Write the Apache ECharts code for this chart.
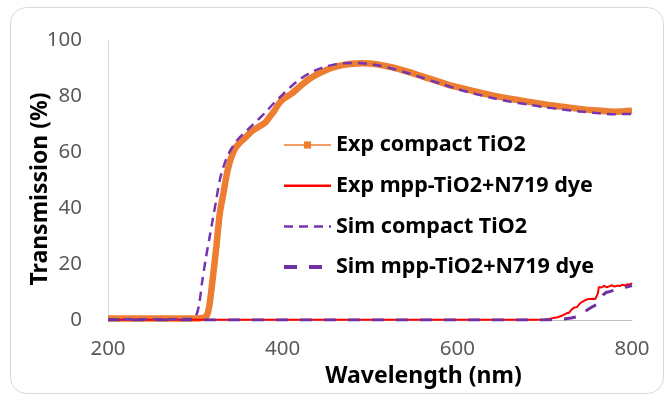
<!DOCTYPE html>
<html>
<head>
<meta charset="utf-8">
<script src="https://cdn.jsdelivr.net/npm/echarts@6/dist/echarts.min.js"></script>
<style>
html,body{margin:0;padding:0;background:#fff;}
#c{width:665px;height:394px;}
</style>
</head>
<body>
<div id="c"></div>
<script>
// ---- data ----
const seriesNames = ['Exp compact TiO2', 'Exp mpp-TiO2+N719 dye', 'Sim compact TiO2', 'Sim mpp-TiO2+N719 dye'];
const xTitle = 'Wavelength (nm)';
const yTitle = 'Transmission (%)';
const xTicks = [200, 400, 600, 800];
const yTicks = [0, 20, 40, 60, 80, 100];

const expCompactX = [200, 250, 300, 305, 310, 313, 316, 320, 324, 328, 332, 336, 340, 345, 350, 355, 360, 365, 370, 375, 380, 385, 390, 395, 400, 410, 420, 430, 440, 450, 460, 470, 480, 490, 500, 510, 520, 530, 540, 550, 560, 570, 580, 590, 600, 620, 640, 660, 680, 700, 720, 740, 760, 780, 800];
const expCompactY = [0.5, 0.5, 0.5, 0.6, 0.9, 1.5, 5, 15, 26, 38, 45, 52, 57, 61, 63, 64.5, 66, 67.5, 68.5, 69.5, 70.5, 72.5, 74.5, 77, 78.8, 80.8, 83.5, 86, 87.8, 89.3, 90.4, 91.1, 91.5, 91.7, 91.6, 91.2, 90.6, 89.9, 89, 88, 87, 86, 85, 84, 83.2, 81.6, 80.2, 79, 78, 77, 76.2, 75.4, 74.8, 74.4, 74.7];

const expMppX = [200, 300, 400, 500, 600, 650, 690, 700, 705, 710, 715, 720, 725, 728, 731, 734, 737, 740, 743, 746, 749, 752, 755, 758, 760, 761, 762, 765, 768, 771, 774, 777, 780, 783, 786, 789, 792, 795, 798, 800];
const expMppY = [0.1, 0.1, 0.1, 0.1, 0.1, 0.1, 0.1, 0.2, 0.4, 0.7, 1.0, 1.6, 2.4, 2.6, 3.8, 4.5, 4.6, 5.8, 6.5, 7.0, 7.4, 7.5, 7.6, 7.5, 7.8, 9.5, 11.8, 11.6, 12.2, 11.7, 12.0, 12.4, 11.9, 12.3, 12.1, 12.6, 12.3, 12.8, 12.7, 13.2];

const simCompactX = [200, 250, 295, 300, 304, 308, 312, 316, 320, 324, 328, 332, 336, 340, 345, 350, 355, 360, 365, 370, 375, 380, 390, 400, 410, 420, 430, 440, 450, 460, 470, 480, 490, 500, 510, 520, 540, 560, 580, 600, 620, 640, 660, 680, 700, 720, 740, 760, 780, 800];
const simCompactY = [0.3, 0.3, 0.4, 1, 5, 14, 22, 29, 36, 43, 50, 54.5, 58, 60.5, 63, 65, 66.5, 68, 69.5, 71, 72.5, 74, 77.5, 80.5, 83.5, 86, 88, 89.5, 90.6, 91.3, 91.7, 91.8, 91.7, 91.4, 90.9, 90.2, 88.5, 86.5, 84.5, 82.5, 80.8, 79.3, 78, 77, 76, 75.2, 74.5, 73.9, 73.5, 73.6];

const simMppX = [200, 300, 400, 500, 600, 700, 710, 720, 730, 740, 745, 750, 755, 760, 763, 765, 767, 770, 775, 780, 785, 790, 795, 800];
const simMppY = [0, 0, 0, 0, 0, 0, 0.1, 0.3, 0.7, 1.3, 2.8, 3.8, 4.8, 5.6, 6.5, 6.9, 9.0, 9.8, 10.2, 10.7, 11.0, 11.5, 11.9, 12.3];

function pairs(xs, ys) { return xs.map((x, i) => [x, ys[i]]); }

const chart = echarts.init(document.getElementById('c'));
const FONT = 'Noto Sans';
chart.setOption({
  animation: false,
  backgroundColor: '#fff',
  graphic: [{
    type: 'rect', z: -10, silent: true,
    shape: { x: 10.5, y: 7.5, width: 653, height: 386, r: 16 },
    style: { fill: 'none', stroke: '#d9d9d9', lineWidth: 1 }
  }, {
    type: 'text', silent: true,
    x: 40, y: 189, rotation: Math.PI / 2,
    style: { text: yTitle, fontFamily: FONT, fontWeight: 'bold', fontSize: 23, fill: '#000',
      textAlign: 'center', textVerticalAlign: 'middle' }
  }],
  grid: { left: 108, right: 33, top: 40, bottom: 74 },
  legend: {
    orient: 'vertical',
    left: 282,
    top: 134,
    padding: 0,
    itemWidth: 47,
    itemHeight: 9,
    itemGap: 18.7,
    textStyle: { fontFamily: FONT, fontWeight: 'bold', fontSize: 21.5, color: '#000', lineHeight: 22 },
    data: [
      { name: seriesNames[0], lineStyle: { width: 1.5 } },
      { name: seriesNames[1], itemStyle: { opacity: 0 }, lineStyle: { width: 2.5 } },
      { name: seriesNames[2], itemStyle: { opacity: 0 }, lineStyle: { width: 2.5, type: [9, 6] } },
      { name: seriesNames[3], itemStyle: { opacity: 0 }, lineStyle: { width: 4, type: [13, 12] } }
    ]
  },
  xAxis: {
    type: 'value', min: 200, max: 800, interval: 200,
    name: xTitle, nameLocation: 'middle', nameGap: 44,
    nameTextStyle: { fontFamily: FONT, fontWeight: 'bold', fontSize: 23, color: '#000', padding: [0, 0, 0, 107] },
    axisLine: { show: true, onZero: false, lineStyle: { color: '#bfbfbf', width: 1 } },
    axisTick: { show: false },
    splitLine: { show: false },
    axisLabel: { fontFamily: FONT, fontSize: 20.5, color: '#595959', margin: 19,
      formatter: v => xTicks.includes(v) ? String(v) : '' }
  },
  yAxis: {
    type: 'value', min: 0, max: 100, interval: 20,
    axisLine: { show: true, lineStyle: { color: '#d9d9d9', width: 1 } },
    axisTick: { show: false },
    splitLine: { show: false },
    axisLabel: { fontFamily: FONT, fontSize: 20.5, color: '#595959', margin: 26,
      formatter: v => yTicks.includes(v) ? String(v) : '' }
  },
  series: [
    { name: seriesNames[0], type: 'line', data: pairs(expCompactX, expCompactY), symbol: 'rect', showSymbol: false,
      smooth: 0.3, color: '#ED7D31', lineStyle: { width: 6.5, color: '#ED7D31' }, itemStyle: { color: '#ED7D31' }, z: 2 },
    { name: seriesNames[1], type: 'line', data: pairs(expMppX, expMppY), symbol: 'none',
      color: '#FF0000', lineStyle: { width: 2, color: '#FF0000' }, z: 3 },
    { name: seriesNames[2], type: 'line', data: pairs(simCompactX, simCompactY), symbol: 'none', smooth: 0.3,
      color: '#7535B0', lineStyle: { width: 2.5, color: '#7535B0', type: [9, 6] }, z: 4 },
    { name: seriesNames[3], type: 'line', data: pairs(simMppX, simMppY), symbol: 'none',
      color: '#7030A0', lineStyle: { width: 3, color: '#7030A0', type: [12, 12] }, z: 5 }
  ]
});
</script>
</body>
</html>
